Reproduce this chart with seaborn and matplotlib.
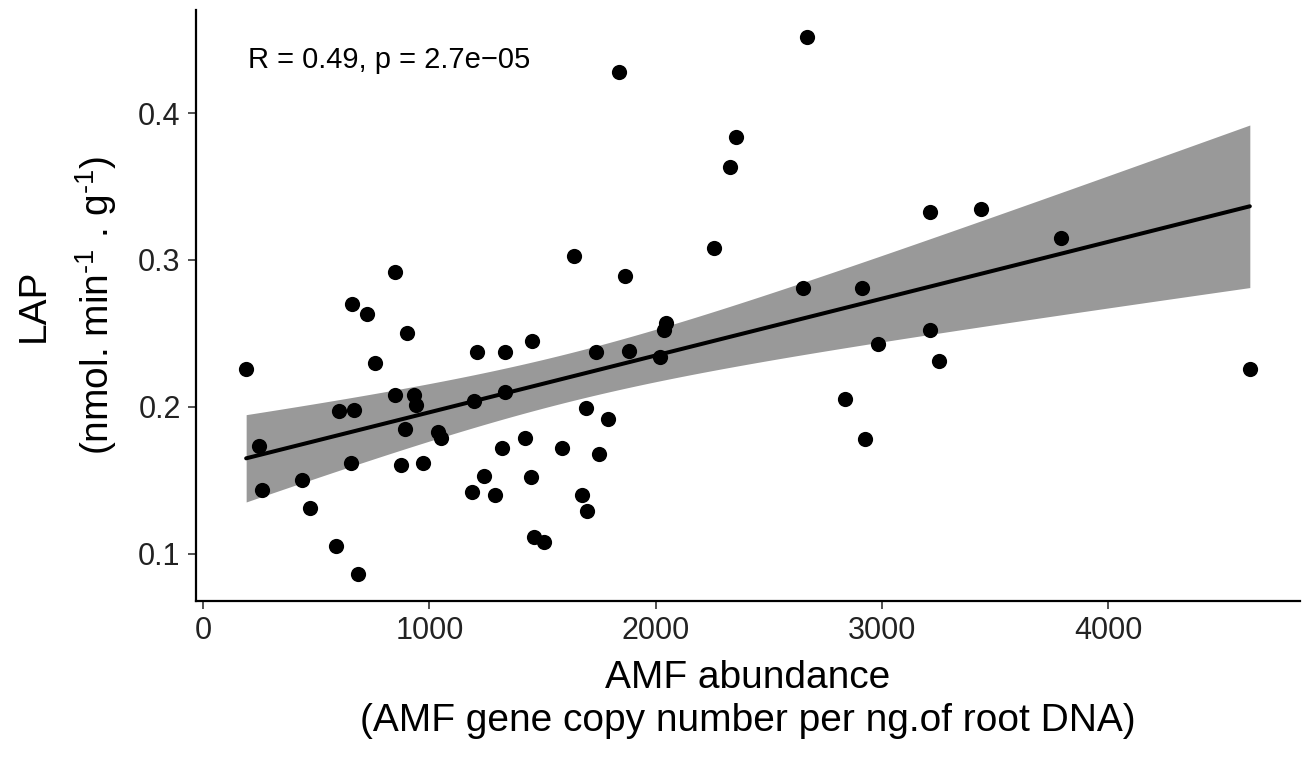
# LAP activity vs AMF abundance - scatter with linear fit and 95% CI band
import numpy as np
import pandas as pd
import matplotlib
matplotlib.use("Agg")
import matplotlib.pyplot as plt
import seaborn as sns

# ------------- data ---------------------------------
amf_abundance = [
    190, 247, 260, 437, 472, 587, 600, 658, 653, 667,
    684, 724, 759, 848, 848, 874, 892, 901, 932, 941,
    971, 1037, 1051, 1187, 1196, 1209, 1240, 1288, 1319, 1332,
    1332, 1420, 1455, 1447, 1460, 1508, 1587, 1640, 1676, 1693,
    1698, 1737, 1750, 1790, 1839, 1865, 1883, 2019, 2037, 2046,
    2257, 2328, 2354, 2650, 2668, 2835, 2910, 2923, 2981, 3210,
    3210, 3250, 3435, 3792, 4625]
lap = [
    0.226, 0.173, 0.143, 0.150, 0.131, 0.105, 0.197, 0.270, 0.162, 0.198,
    0.086, 0.263, 0.230, 0.292, 0.208, 0.160, 0.185, 0.250, 0.208, 0.201,
    0.162, 0.183, 0.179, 0.142, 0.204, 0.237, 0.153, 0.140, 0.172, 0.237,
    0.210, 0.179, 0.245, 0.152, 0.111, 0.108, 0.172, 0.303, 0.140, 0.199,
    0.129, 0.237, 0.168, 0.192, 0.428, 0.289, 0.238, 0.234, 0.252, 0.257,
    0.308, 0.363, 0.384, 0.281, 0.452, 0.205, 0.281, 0.178, 0.243, 0.333,
    0.252, 0.231, 0.335, 0.315, 0.226]
x_ticks = [0, 1000, 2000, 3000, 4000]
y_ticks = [0.1, 0.2, 0.3, 0.4]
cor_label = "R = 0.49, p = 2.7e\u221205"

df = pd.DataFrame({"amf": amf_abundance, "lap": lap})

# ------------- style --------------
sns.set_theme(style="ticks")
plt.rcParams["font.family"] = ["Liberation Sans", "DejaVu Sans"]
plt.rcParams["mathtext.fontset"] = "custom"
plt.rcParams["mathtext.rm"] = "Liberation Sans"
plt.rcParams["mathtext.default"] = "regular"

fig = plt.figure(figsize=(13.03, 7.65), dpi=100)
ax = fig.add_axes([0.1504, 0.2144, 0.8473, 0.7726])

# ---- analytic 95% confidence band of the linear fit (like geom_smooth(method="lm"))
x = df["amf"].to_numpy(float)
y = df["lap"].to_numpy(float)
n = len(x)
slope, intercept = np.polyfit(x, y, 1)
resid = y - (slope * x + intercept)
s_err = np.sqrt(np.sum(resid ** 2) / (n - 2))
grid = np.linspace(x.min(), x.max(), 200)
t_val = 1.9983  # t(0.975, df=63)
half = t_val * s_err * np.sqrt(1 / n + (grid - x.mean()) ** 2 / np.sum((x - x.mean()) ** 2))
fit = slope * grid + intercept
ax.fill_between(grid, fit - half, fit + half, color="#999999", lw=0, zorder=2)

sns.regplot(data=df, x="amf", y="lap", ax=ax, ci=None,
            color="black",
            scatter_kws=dict(s=120, linewidths=0, alpha=1, zorder=3),
            line_kws=dict(color="black", lw=2.9, zorder=4))

# ggplot-like 5% expansion
xr = x.max() - x.min()
yr = y.max() - y.min()
ax.set_xlim(x.min() - 0.05 * xr, x.max() + 0.05 * xr)
ax.set_ylim(y.min() - 0.05 * yr, y.max() + 0.05 * yr)

ax.set_xticks(x_ticks)
ax.set_yticks(y_ticks)
ax.set_yticklabels([f"{v:.1f}" for v in y_ticks])
ax.tick_params(axis="both", length=6, width=1.2, color="#333333",
               labelsize=22, labelcolor="#222222", pad=5)
for side in ["left", "bottom"]:
    ax.spines[side].set_linewidth(1.6)
    ax.spines[side].set_color("black")
sns.despine(ax=ax)

ax.set_xlabel("AMF abundance\n(AMF gene copy number per ng.of root DNA)",
              fontsize=28, linespacing=1.25, labelpad=10, color="black")
ax.set_ylabel("LAP\n(nmol. min$^{\\text{-1}}$ . g$^{\\text{-1}}$)",
              fontsize=28, linespacing=1.6, labelpad=14, color="black")

ax.text(0.047, 0.915, cor_label, transform=ax.transAxes, fontsize=21,
        ha="left", va="center", color="black")

fig.savefig("out.png", dpi=100)
